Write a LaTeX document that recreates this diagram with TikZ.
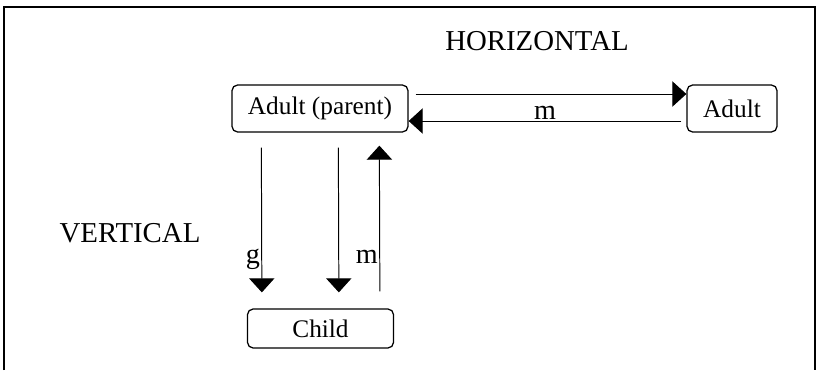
\documentclass[tikz,border=0pt]{standalone}
\usepackage{fontspec}
\setmainfont{Liberation Serif}
\usetikzlibrary{arrows.meta,calc}

\begin{document}
\begin{tikzpicture}
  [x=0.025cm,y=-0.025cm,
   box/.style={draw,line width=0.9pt,rounded corners=4pt,inner sep=0pt,font=\fontsize{18}{21}\selectfont},
   arr/.style={line width=0.7pt,-{Triangle[length=10pt,width=18pt]}},
   lbl/.style={font=\fontsize{20}{24}\selectfont,inner sep=1pt},
   title/.style={font=\fontsize{20.5}{24}\selectfont}]
  \useasboundingbox (0,0) rectangle (819,370);
  \draw[line width=1.2pt] (4,370) -- (4,7) -- (815,7) -- (815,370);

  \node[title] (nh) at (537,41) {HORIZONTAL};
  \node[title] (nv) at (130,233) {VERTICAL};

  \node[box,minimum width=4.4cm,minimum height=1.175cm] (np) at (320,108.5) {Adult (parent)};
  \node[box,minimum width=2.25cm,minimum height=1.175cm] (na) at (732,108.5) {Adult};
  \node[box,minimum width=3.65cm,minimum height=0.975cm] (nc) at (320.5,328.5) {Child};

  % horizontal
  \draw[arr] ($(np.east)+(7,-14.5)$) -- ($(na.west)+(0,-14.5)$);
  \draw[arr] ($(na.west)+(-5,12.5)$) -- node[lbl,above] {m} ($(np.east)+(0,12.5)$);

  % vertical
  \draw[arr] ($(np.south west)+(30,15)$) -- node[lbl,pos=0.8,anchor=base east] {g} ($(nc.north west)+(15,-16)$);
  \draw[arr] ($(np.south west)+(107,15)$) -- ($(nc.north west)+(92,-16)$);
  \draw[arr] ($(nc.north west)+(133,-17)$) -- node[lbl,pos=0.19,anchor=base east] {m} ($(np.south west)+(148,13)$);

\end{tikzpicture}
\end{document}
